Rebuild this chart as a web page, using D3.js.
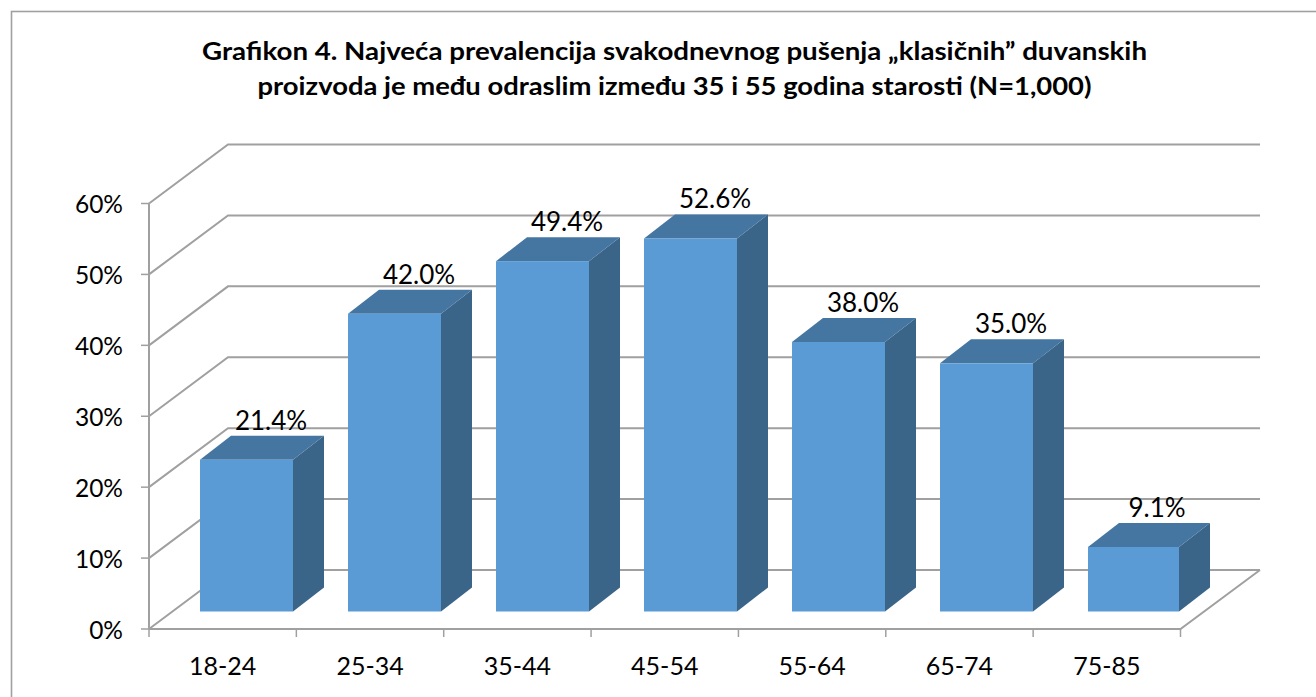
<!DOCTYPE html>
<html><head><meta charset="utf-8">
<script src="https://cdn.jsdelivr.net/npm/d3@7/dist/d3.min.js"></script>
<style>html,body{margin:0;padding:0;background:#fff}svg{display:block}text{font-family:Lato,"Open Sans",sans-serif;fill:#000}</style>
</head><body><svg id="c" width="1316" height="697"></svg>
<script>
const categories=["18-24","25-34","35-44","45-54","55-64","65-74","75-85"];
const values=[21.4,42.0,49.4,52.6,38.0,35.0,9.1];
const valueLabels=["21.4%","42.0%","49.4%","52.6%","38.0%","35.0%","9.1%"];
const yTicks=[0,10,20,30,40,50,60];
const titleLines=["Grafikon 4. Najveća prevalencija svakodnevnog pušenja „klasičnih” duvanskih","proizvoda je među odraslim između 35 i 55 godina starosti (N=1,000)"];
const titleWidths=[945,834];

const svg=d3.select("#c");
const y=d3.scaleLinear().domain([0,60]).range([629,203.5]);
const xTick=d3.scaleLinear().domain([0,7]).range([149,1180.5]);
const xBar=d3.scaleLinear().domain([0,6]).range([200,1088]);
const depth={dx:79,dy:-59}, bd={dx:31,dy:-24};
const baseShift=y(0)-611.5;
const grid="#a0a0a0";

svg.append("rect").attr("x",11.5).attr("y",11.5).attr("width",1340).attr("height",720)
  .attr("fill","#fff").attr("stroke","#a0a0a0").attr("stroke-width",1.6);

const title=svg.append("g");
titleLines.forEach((t,i)=>title.append("text").attr("x",674.5).attr("y",[59.5,94.5][i])
  .attr("text-anchor","middle").attr("font-weight",700).attr("font-size",25.5)
  .attr("textLength",titleWidths[i]).attr("lengthAdjust","spacingAndGlyphs").text(t));

const g=svg.append("g").attr("fill","none").attr("stroke",grid).attr("stroke-width",2);
yTicks.forEach(t=>{
  const yy=y(t);
  g.append("path").attr("d",d3.line()([[149,yy],[149+depth.dx,yy+depth.dy],[1260,yy+depth.dy]]));
});
g.append("path").attr("d",d3.line()([[149,y(0)],[1180.5,y(0)],[1260,y(0)+depth.dy]]));
g.append("path").attr("d",d3.line()([[149,y(0)],[149,y(60)]]));
const tk=svg.append("g").attr("stroke",grid).attr("stroke-width",1.5);
yTicks.forEach(t=>tk.append("line").attr("x1",141).attr("x2",149).attr("y1",y(t)).attr("y2",y(t)));
d3.range(8).forEach(i=>tk.append("line").attr("x1",xTick(i)).attr("x2",xTick(i)).attr("y1",y(0)).attr("y2",y(0)+8));

yTicks.forEach(t=>svg.append("text").attr("x",123).attr("y",y(t)+9.5).attr("text-anchor","end")
  .attr("font-size",24.5).text(t+"%"));
categories.forEach((c,i)=>svg.append("text").attr("x",(xTick(i)+xTick(i+1))/2).attr("y",y(0)+46)
  .attr("text-anchor","middle").attr("font-size",25).text(c));

values.forEach((v,i)=>{
  const x0=xBar(i), x1=Math.min(x0+93,1179);
  const yb=y(0)-baseShift, yt=yb-(y(0)-y(v));
  const b=svg.append("g");
  const P=a=>d3.line()(a)+"Z";
  b.append("path").attr("d",P([[x1,yb],[x1+bd.dx,yb+bd.dy],[x1+bd.dx,yt+bd.dy],[x1,yt]])).attr("fill","#3a6488");
  b.append("path").attr("d",P([[x0,yt],[x1,yt],[x1+bd.dx,yt+bd.dy],[x0+bd.dx,yt+bd.dy]])).attr("fill","#4575a1");
  b.append("rect").attr("x",x0).attr("y",yt).attr("width",x1-x0).attr("height",yb-yt).attr("fill","#5b9bd5");
  svg.append("text").attr("x",x1-22).attr("y",yt+bd.dy-6).attr("text-anchor","middle").attr("font-size",26).text(valueLabels[i]);
});
</script></body></html>
